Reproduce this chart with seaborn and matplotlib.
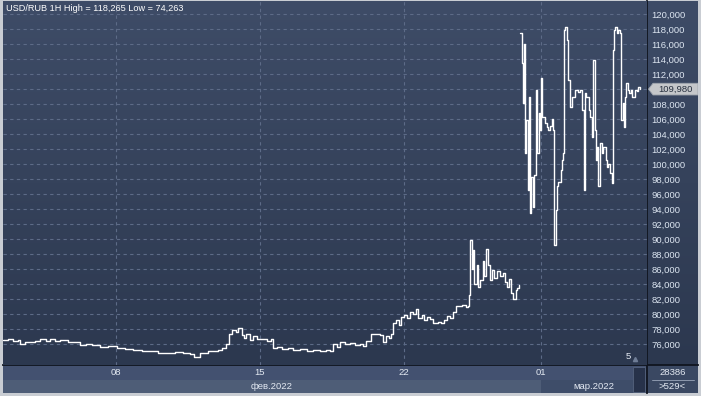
import numpy as np
import pandas as pd
import matplotlib
matplotlib.use("Agg")
import matplotlib.pyplot as plt
import seaborn as sns
from matplotlib.patches import Polygon, Rectangle
from matplotlib.colors import LinearSegmentedColormap

# ---------------- data (hourly bar index, USD/RUB price) ----------------
title_text = "USD/RUB 1H High = 118,265 Low = 74,263"

bars_before = [0, 4, 8, 12, 14, 18, 22, 26, 30, 35, 39, 43, 47, 53, 57, 63, 68, 73, 80, 86,
               94, 100, 107, 114, 121, 127, 135, 141, 148, 154, 157, 162, 168, 173, 177, 180,
               183, 186, 188, 191, 193, 196, 198, 200, 203, 205, 209, 213, 217, 220, 222, 225,
               229, 234, 238, 244, 250, 255, 260, 265, 269, 271, 274, 277, 281, 285, 289, 293,
               296, 298, 302, 306, 310, 312, 315, 317, 319, 320, 323, 325, 327, 329, 332, 334,
               337, 339, 341, 344, 346, 348, 351, 353, 357, 360, 362, 365, 367, 370, 372, 375,
               377, 380, 382, 383, 384, 385, 386, 387, 389, 390, 392, 394, 395, 397, 398, 400,
               402, 403, 406, 408, 411, 412, 414, 416, 417, 419, 421, 422, 424]
price_before = [76.5, 76.7, 76.4, 76.5, 76.0, 76.3, 76.2, 76.4, 76.6, 76.4, 76.6, 76.4, 76.5, 76.2,
                76.3, 75.9, 76.0, 75.8, 75.6, 75.7, 75.4, 75.3, 75.2, 75.0, 75.0, 74.8, 74.8, 74.9,
                74.8, 74.6, 74.3, 74.8, 75.0, 75.1, 75.2, 75.5, 76.0, 77.3, 77.8, 77.6, 78.1, 77.2,
                76.8, 77.3, 76.5, 77.0, 76.6, 76.6, 76.4, 76.6, 75.5, 75.6, 75.3, 75.4, 75.2, 75.3,
                75.0, 75.2, 75.0, 75.2, 75.1, 76.0, 75.6, 76.2, 76.0, 76.1, 75.8, 76.0, 75.7, 76.4,
                77.3, 77.3, 77.2, 76.2, 77.0, 76.8, 77.3, 78.8, 79.2, 78.5, 79.6, 79.8, 79.5, 80.3,
                80.0, 80.6, 79.5, 79.9, 79.2, 79.6, 79.3, 78.8, 78.9, 78.8, 79.2, 79.7, 79.4, 80.3,
                81.0, 81.1, 81.2, 80.9, 81.0, 82.5, 89.9, 86.0, 88.5, 84.0, 86.5, 83.6, 84.5, 87.0,
                85.0, 88.7, 86.5, 84.5, 85.8, 84.8, 85.7, 85.0, 85.4, 84.3, 83.6, 84.6, 82.8, 82.0,
                83.2, 83.4, 83.8]

bars_after = [425, 426, 427, 428, 429, 430, 431, 432, 433, 434, 435, 436, 438, 439, 440, 441, 442,
              443, 445, 447, 448, 449, 451, 452, 453, 454, 455, 456, 458, 459, 460, 461, 462, 463,
              464, 466, 467, 470, 472, 474, 476, 477, 478, 479, 481, 482, 484, 485, 486, 487, 488,
              489, 490, 492, 493, 495, 496, 497, 499, 500, 501, 502, 503, 504, 505, 507, 508, 509,
              510, 511, 512, 513, 514, 516, 517, 519, 521, 522, 523]
price_after = [117.5, 113.5, 108.1, 116.0, 101.5, 105.9, 96.5, 108.9, 93.5, 98.3, 94.3, 98.5, 109.9,
               101.5, 106.8, 104.5, 111.5, 106.3, 105.5, 104.9, 104.5, 105.0, 106.0, 104.5, 89.2,
               93.9, 97.0, 97.6, 99.2, 100.5, 101.5, 117.9, 118.2, 116.5, 111.2, 107.6, 108.9,
               109.9, 109.6, 109.9, 107.2, 96.5, 109.5, 108.9, 107.2, 106.3, 103.6, 113.9, 104.5,
               100.5, 102.3, 97.0, 102.8, 101.5, 102.3, 100.5, 99.6, 100.0, 98.8, 97.5, 115.2,
               117.9, 118.3, 117.5, 117.9, 117.5, 105.9, 108.1, 104.9, 108.9, 110.8, 109.9, 109.5,
               109.9, 108.9, 109.9, 109.7, 110.2, 109.98]

last_price = 109.98
visible_bars = 529
y_ticks = list(range(76, 121, 2))
x_tick_bars = [93, 211, 329, 442]
x_tick_labels = ["08", "15", "22", "01"]
month_names = ["фев.2022", "мар.2022"]
month_bounds = [(0, 442), (442, 529)]
bar_count_label = "28386"
visible_label = ">529<"
scroll_label = "5"

# ---------------- figure ----------------
sns.set_theme(style="dark")
plt.rcParams['font.family'] = ['Liberation Sans', 'DejaVu Sans']

W, H = 701, 396
fig = plt.figure(figsize=(W / 100, H / 100), dpi=100, facecolor='#c9cdd3')


def rect(x0, y0, x1, y1):
    return [x0 / W, 1 - y1 / H, (x1 - x0) / W, (y1 - y0) / H]


ax = fig.add_axes(rect(3, 1, 647, 365), zorder=3)
ax_r = fig.add_axes(rect(647, 1, 698, 365), zorder=1)
ax_b = fig.add_axes(rect(3, 365, 647, 393), zorder=1)
ax_br = fig.add_axes(rect(647, 365, 698, 393), zorder=1)

ylo, yhi = 73.2, 121.73
grad = LinearSegmentedColormap.from_list("bg", ["#3e4c67", "#2c384f"])
for a in (ax, ax_r):
    a.imshow(np.linspace(0, 1, 256).reshape(-1, 1), extent=[0, 1, 0, 1],
             transform=a.transAxes, aspect='auto', cmap=grad, zorder=0)

# grid
for v in y_ticks:
    ax.axhline(v, color='#5d6b87', lw=0.8, ls=(0, (3, 3)), zorder=1)
for b in x_tick_bars:
    ax.axvline(b, color='#5d6b87', lw=0.8, ls=(0, (3, 3)), zorder=1)

df = pd.DataFrame({
    "bar": bars_before + bars_after,
    "price": price_before + price_after,
    "seg": [0] * len(bars_before) + [1] * len(bars_after),
})
sns.lineplot(data=df, x="bar", y="price", units="seg", estimator=None,
             color="white", lw=1.0, ax=ax, legend=False, zorder=3,
             drawstyle="steps-post")

ax.set_xlim(0, visible_bars)
ax.set_ylim(ylo, yhi)
ax.set_xlabel("")
ax.set_ylabel("")
ax.set_xticks([])
ax.yaxis.tick_right()
ax.set_yticks(y_ticks)
# the 110,000 label is hidden behind the last-price tag
ax.set_yticklabels(["" if abs(v - last_price) < 1 else f"{v:.3f}".replace(".", ",")
                    for v in y_ticks])
ax.tick_params(axis='y', length=0, pad=3, labelsize=6.8, labelcolor='#dde6f1')
for s in ax.spines.values():
    s.set_visible(False)

ax.text(0.004, 0.993, title_text, transform=ax.transAxes, ha='left', va='top',
        color='white', fontsize=6.6)
ax.text((628 - 3) / 644, 0.012, scroll_label, transform=ax.transAxes, ha='center',
        va='bottom', color='#e6ecf4', fontsize=6.8)
ax.plot([(635 - 3) / 644], [0.016], marker='^', ms=3, color='#6f7d96',
        transform=ax.transAxes, clip_on=False)

# right panel
ax_r.set_xlim(0, 51)
ax_r.set_ylim(ylo, yhi)
ax_r.set_xticks([])
ax_r.set_yticks([])
for k, s in ax_r.spines.items():
    s.set_visible(k == 'left')
ax_r.spines['left'].set_color('#10151f')
ax_r.spines['left'].set_linewidth(1.3)
h = 0.78
tag = Polygon([(1.5, last_price), (6, last_price + h), (51, last_price + h),
               (51, last_price - h), (6, last_price - h)], closed=True,
              facecolor='#c5c7ca', edgecolor='#9ea4ad', lw=0.6, zorder=5)
ax_r.add_patch(tag)
ax_r.text(28, last_price, f"{last_price:.3f}".replace(".", ","), ha='center', va='center',
          color='#27303f', fontsize=6.8, zorder=6)

# bottom time axis
ax_b.set_xlim(0, visible_bars)
ax_b.set_ylim(0, 1)
ax_b.set_facecolor('#435170')
split = 13 / 28
ax_b.axvspan(month_bounds[0][0], month_bounds[0][1], ymin=0, ymax=split, color='#4e5d77', lw=0)
ax_b.axvspan(month_bounds[1][0], month_bounds[1][1], ymin=0, ymax=split, color='#3e4d69', lw=0)
for b, lab in zip(x_tick_bars, x_tick_labels):
    ax_b.text(b, 0.72, lab, ha='center', va='center', color='#e3e9f2', fontsize=6.8)
for (m0, m1), name in zip(month_bounds, month_names):
    ax_b.text((m0 + m1) / 2, 0.22, name, ha='center', va='center', color='#e3e9f2',
              fontsize=6.8)
ax_b.add_patch(Rectangle(((633 - 3) / 644, 0.04), 12 / 644, 0.9, transform=ax_b.transAxes,
                         facecolor='#27324a', edgecolor='#55637e', lw=0.6, zorder=4))
ax_b.set_xticks([])
ax_b.set_yticks([])
for k, s in ax_b.spines.items():
    s.set_visible(k == 'top')
ax_b.spines['top'].set_color('#10151f')
ax_b.spines['top'].set_linewidth(1.3)

# bottom-right info box
ax_br.set_xlim(0, 1)
ax_br.set_ylim(0, 1)
ax_br.set_facecolor('#3a4862')
ax_br.text(0.5, 0.72, bar_count_label, ha='center', va='center', color='#e3e9f2', fontsize=6.8)
ax_br.text(0.5, 0.22, visible_label, ha='center', va='center', color='#e3e9f2', fontsize=6.8)
ax_br.plot([0.1, 0.92], [0.48, 0.48], color='#8d99ae', lw=0.7)
ax_br.set_xticks([])
ax_br.set_yticks([])
for k, s in ax_br.spines.items():
    s.set_visible(k in ('top', 'left'))
    s.set_color('#10151f')
    s.set_linewidth(1.3)

fig.savefig("out.png", dpi=100, facecolor=fig.get_facecolor())
